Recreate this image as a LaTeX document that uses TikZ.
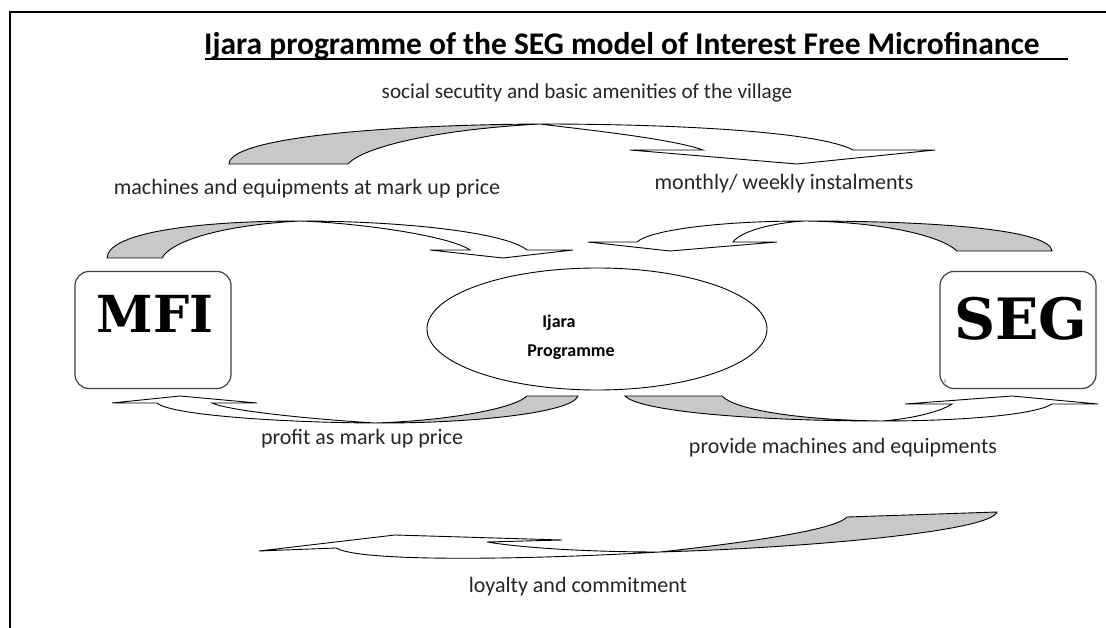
\documentclass[tikz,border=0pt]{standalone}
\usepackage{fontspec}
\setmainfont{Carlito}
\newfontfamily\boxfont{DejaVu Serif}
\usetikzlibrary{shapes.geometric}
\definecolor{bandgray}{RGB}{200,200,200}
\begin{document}
\begin{tikzpicture}[x=1pt,y=-1pt,
  band/.style={draw=black, line width=0.9pt, line join=miter},
  rear/.style={band, fill=bandgray},
  front/.style={band, fill=white},
  lbl/.style={font=\fontsize{22}{26}\selectfont, text=black!85, inner sep=0pt, anchor=base},
  party/.style={draw=black!75, line width=1.2pt, rounded corners=14pt, minimum width=156pt, minimum height=117pt, inner sep=0pt},
  partytext/.style={font=\boxfont\bfseries\fontsize{51}{55}\selectfont, inner sep=0pt, anchor=base},
  progtext/.style={font=\bfseries\fontsize{18}{22}\selectfont, inner sep=0pt, anchor=base}
]
\useasboundingbox (0,0) rectangle (1106,628);
\fill[white] (0,0) rectangle (1106,628);

% frame
\draw[line width=2.5pt] (10,628) -- (10,12) -- (1106,12);

% title with underline
\node[font=\bfseries\fontsize{31.5}{36}\selectfont, inner sep=0pt, anchor=base west] (title) at (204,55)
  {Ijara programme of the SEG model of Interest Free Microfinance};
\draw[line width=2.2pt] (205,59) -- (1068,59);

% parties
\node[party] (mfi) at (153,330) {};
\node[partytext] (mfitext) at (155,333) {MFI};
\node[party] (seg) at (1018,330) {};
\node[partytext, font=\boxfont\bfseries\fontsize{57}{62}\selectfont] (segtext) at (1021,340) {SEG};

% central programme
\node[draw=black, line width=0.9pt, ellipse, minimum width=340pt, minimum height=122pt] (ijara) at (597,329) {};
\node[progtext] (ijaraone) at (559,327) {Ijara};
\node[progtext] (ijaratwo) at (571,356) {Programme};

% social security arrow (top)
\draw[rear] (229,164) .. controls (229,138) and (380,125) .. (540,124)
  .. controls (430,130) and (362,148) .. (348,164) -- cycle;
\draw[front] (540,124) .. controls (680,124) and (820,132) .. (853,150)
  -- (935,150) -- (797,164) -- (630,150) -- (703,150)
  .. controls (670,138) and (570,128) .. (540,124) -- cycle;

% machines at mark up price
\draw[rear] (107,258) .. controls (108,232) and (200,221) .. (300,221)
  .. controls (225,225) and (172,240) .. (162,258) -- cycle;
\draw[front] (300,221) .. controls (400,221) and (505,232) .. (527,250)
  -- (573,250) -- (503,258) -- (430,250) -- (470,250)
  .. controls (450,236) and (360,223) .. (300,221) -- cycle;

% instalments
\draw[rear] (1052,251) .. controls (1050,230) and (940,221) .. (805,221)
  .. controls (880,222) and (940,235) .. (957,251) -- cycle;
\draw[front] (805,221) .. controls (720,221) and (650,230) .. (637,242)
  -- (588,242) -- (670,251) -- (777,242) -- (733,242)
  .. controls (740,232) and (770,223) .. (805,221) -- cycle;

% profit
\draw[rear] (578,396) .. controls (572,413) and (470,423.5) .. (375,423)
  .. controls (440,421) and (512,410) .. (527,396) -- cycle;
\draw[front] (375,423) .. controls (280,422.5) and (170,415) .. (157,403)
  -- (112,403) -- (180,396) -- (257,403) -- (212,403)
  .. controls (230,411) and (310,419) .. (375,423) -- cycle;

% provide machines
\draw[rear] (625,396) .. controls (640,412) and (760,421) .. (882,421)
  .. controls (800,420) and (735,410) .. (722,396) -- cycle;
\draw[front] (882,421) .. controls (960,421) and (1035,415) .. (1052,404)
  -- (1098,404) -- (1012,396) -- (905,404) -- (952,404)
  .. controls (940,412) and (910,419) .. (882,421) -- cycle;

% loyalty
\draw[rear] (660,552) .. controls (800,548) and (990,532) .. (997,512)
  -- (847,517) .. controls (835,530) and (750,542) .. (660,552) -- cycle;
\draw[front] (660,552) .. controls (520,560) and (360,562) .. (336,548)
  -- (259,551) -- (395,535) -- (562,540) -- (487,542)
  .. controls (530,549) and (600,552) .. (660,552) -- cycle;

% labels
\node[lbl, font=\fontsize{21.2}{25}\selectfont] (lsocial) at (587,99) {social secutity and basic amenities of the village};
\node[lbl] (lmachines) at (307,195) {machines and equipments at mark up price};
\node[lbl] (lmonthly) at (784,190) {monthly/ weekly instalments};
\node[lbl] (lprofit) at (362,444) {profit as mark up price};
\node[lbl] (lprovide) at (843,453) {provide machines and equipments};
\node[lbl] (lloyalty) at (578,592) {loyalty and commitment};
\node[font=\fontsize{9}{10}\selectfont, text=black!60, inner sep=0pt] (mark) at (945,382) {!};
\end{tikzpicture}
\end{document}
